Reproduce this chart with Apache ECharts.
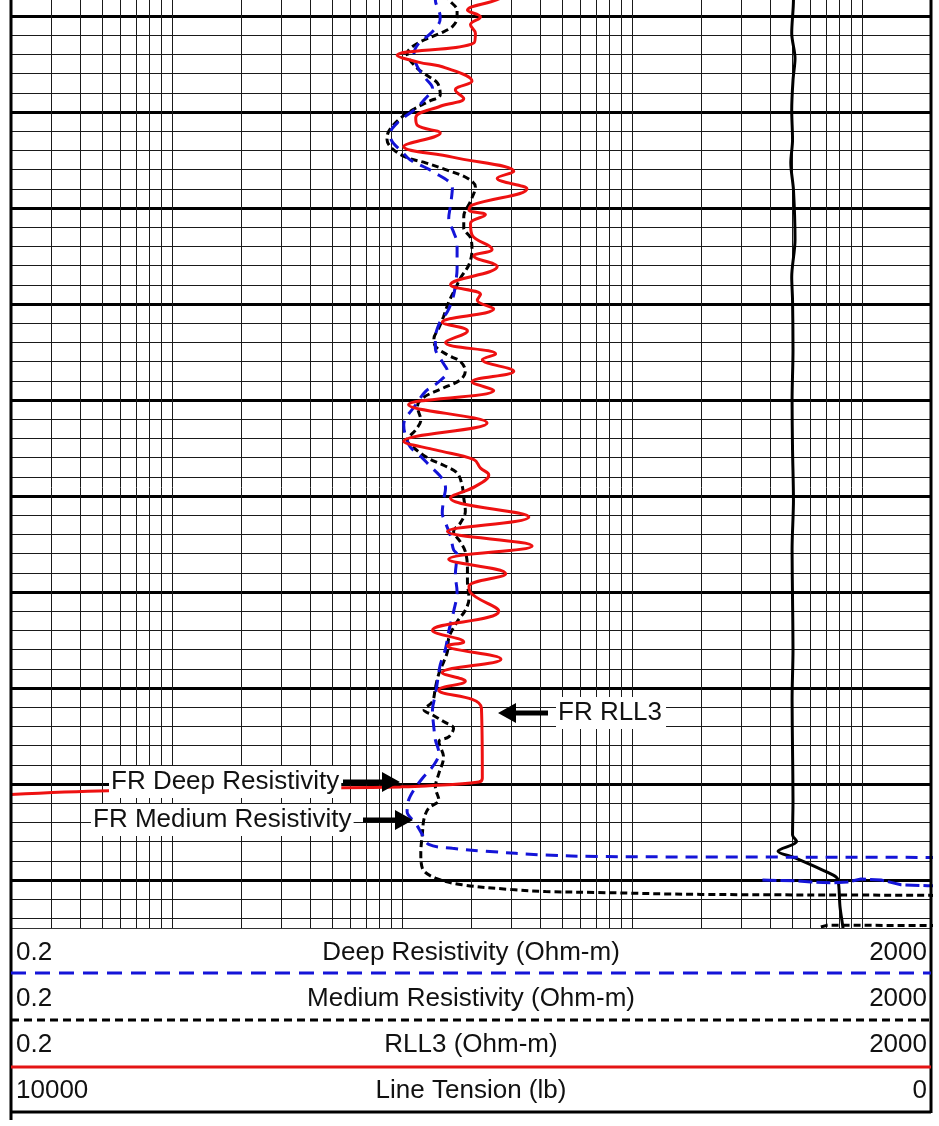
<!DOCTYPE html>
<html>
<head>
<meta charset="utf-8">
<script src="https://cdn.jsdelivr.net/npm/echarts/dist/echarts.min.js"></script>
<style>
html,body{margin:0;padding:0;background:#fff;}
#chart{width:939px;height:1126px;}
</style>
</head>
<body>
<div id="chart"></div>
<script>
// ---------------- DATA ----------------
// Depth axis (ft): major line every 10, minor every 2
const depthMin = 4990, depthMax = 5100;

// Log grid values for resistivity track (0.2 - 2000 ohm-m)
const logGridValues = [0.3,0.4,0.5,0.6,0.7,0.8,0.9,1,2,3,4,5,6,7,8,9,
  10,20,30,40,50,60,70,80,90,100,200,300,400,500,600,700,800,900,1000];

// RLL3 (red, solid)
const rll3Depth = [
  4997.6,4998.3,4999.4,5000.1,5000.9,5001.8,5002.8,5004.1,5004.8,5005.4,
  5006.8,5007.7,5008.6,5009.4,5010.6,5011.4,5012.2,5013.6,5014.7,5016.2,
  5016.9,5018.0,5019.7,5020.2,5020.7,5021.6,5022.8,5024.3,5025.0,5026.1,
  5028.0,5029.0,5029.6,5030.5,5031.9,5032.8,5034.0,5035.2,5035.8,5037.0,
  5038.1,5039.0,5040.5,5042.4,5044.3,5045.2,5046.2,5047.1,5047.8,5049.0,
  5050.2,5052.2,5053.7,5055.2,5056.6,5058.1,5059.4,5060.0,5062.0,5064.0,
  5065.2,5065.6,5067.0,5068.4,5069.3,5070.2,5072.1,5079.4,5079.8,5080.2,
  5080.3,5080.4,5080.7,5081.1];
const rll3Value = [
  29.0,26.0,19.3,22.0,19.9,20.9,20.6,9.55,11.8,15.5,
  20.2,17.1,18.6,14.7,11.5,11.7,14.7,10.2,16.6,30.7,
  26.0,35.0,20.2,19.6,23.1,19.9,20.2,24.7,20.6,26.0,
  16.3,22.0,21.3,25.1,15.0,19.3,15.5,25.6,22.4,30.7,
  20.2,25.1,10.7,23.5,10.2,14.0,20.6,22.0,23.9,20.9,
  16.3,35.7,15.8,36.9,16.0,28.3,19.6,19.8,26.4,13.6,
  18.6,15.8,27.0,15.0,18.9,14.5,22.2,22.4,21.6,12.7,
  9.87,5.59,0.53,0.2];

// Deep Resistivity (blue, dashed)
const deepDepth = [
  4997.6,4998.3,5000.1,5000.8,5002.0,5002.8,5003.9,5005.3,5006.5,5007.5,
  5008.75,5009.8,5011.0,5012.2,5012.9,5014.1,5015.0,5016.2,5017.9,5019.7,
  5021.1,5022.5,5023.7,5026.3,5028.0,5029.1,5030.8,5031.8,5033.6,5034.6,
  5036.0,5037.0,5038.1,5039.1,5040.5,5042.6,5043.8,5044.9,5045.7,5046.9,
  5048.2,5049.2,5050.4,5051.8,5052.8,5054.2,5055.6,5056.1,5058.2,5060.0,
  5062.05,5064.1,5065.9,5067.6,5069.3,5070.7,5072.3,5074.2,5075.4,5076.8,
  5078.0,5079.4,5080.6,5081.7,5082.9,5084.1,5085.3,5086.3,5086.7,5087.0,
  5087.4,5087.55,5087.6,5087.65,5087.7];
const deepValue = [
  14.0,14.0,14.7,14.5,13.1,11.9,11.3,11.7,12.7,13.6,
  12.5,11.3,9.7,8.93,9.0,10.0,10.9,13.6,16.6,16.3,
  16.0,16.8,17.4,17.4,17.1,16.8,15.8,14.7,14.0,14.0,
  15.0,15.8,14.5,12.7,11.5,10.2,10.4,10.9,11.9,13.3,
  15.0,15.5,15.2,15.0,15.5,16.3,16.8,17.4,17.1,17.4,
  16.8,16.0,15.5,14.7,14.3,14.0,13.6,13.8,14.0,14.5,
  13.8,12.3,11.3,10.7,10.55,11.5,12.3,13.1,16.6,23.1,
  42.2,70.8,200,2000,2200];
// Deep Resistivity backup (wrapped) segment
const deepBackupDepth = [5090.0,5090.1,5090.2,5090.3,5090.2,5089.9,5090.0,5090.5,5090.6,5090.6];
const deepBackupValue = [370,526,601,759,868,992,1212,1481,1935,2200];

// Medium Resistivity (black, dashed)
const mediumDepth = [
  4997.6,4998.3,4999.4,5000.2,5001.1,5001.8,5002.5,5003.2,5003.9,5005.3,
  5006.1,5007.0,5008.2,5008.9,5009.8,5010.8,5012.0,5012.9,5013.8,5014.7,
  5015.3,5016.0,5016.9,5017.8,5019.3,5020.9,5022.1,5023.1,5024.4,5025.9,
  5027.3,5028.4,5029.8,5031.3,5032.5,5033.6,5034.4,5035.3,5036.0,5037.0,
  5037.9,5038.8,5039.8,5040.7,5042.1,5043.1,5044.2,5045.0,5046.1,5046.8,
  5047.6,5048.9,5050.2,5051.6,5052.8,5053.7,5054.8,5055.8,5057.5,5058.9,
  5060.7,5061.9,5063.1,5064.8,5066.2,5067.3,5068.1,5069.0,5070.0,5071.4,
  5072.3,5072.8,5073.5,5074.2,5075.1,5075.6,5077.2,5078.9,5080.3,5081.7,
  5082.5,5083.6,5085.1,5087.2,5088.8,5089.8,5090.5,5091.0,5091.2,5091.3,
  5091.5,5091.6,5091.65];
const mediumValue = [
  15.5,16.0,17.4,17.4,16.6,14.7,12.5,11.1,10.55,11.5,
  12.7,14.3,14.7,13.1,11.1,9.7,8.78,8.63,9.08,10.4,
  12.7,15.5,19.3,20.9,19.9,18.6,18.6,19.9,20.2,19.6,
  18.0,17.1,16.0,15.2,14.5,13.8,14.0,15.8,18.0,18.9,
  18.0,15.0,12.3,11.7,12.1,11.5,10.55,11.3,13.1,15.2,
  17.4,18.3,18.6,18.9,18.0,16.8,18.0,18.9,19.3,19.3,
  19.6,18.9,17.4,16.0,15.8,15.2,14.7,14.3,14.0,13.6,
  12.5,13.6,15.2,16.8,16.0,14.5,15.2,14.5,14.0,14.5,
  13.1,12.5,12.3,12.1,12.3,14.0,18.3,30.2,42.2,70.8,
  200,2000,2200];
// Medium Resistivity backup (wrapped) segment
const mediumBackupDepth = [5094.9,5094.7,5094.75,5094.75];
const mediumBackupValue = [664,710,2000,2200];

// Line Tension (black, solid) lb, scale 10000 (left) -> 0 (right)
const tensionDepth = [
  4997.6,4998.3,5001.8,5004.4,5006.7,5009.8,5012.9,5015.3,5018.1,5023.3,
  5027.2,5029.6,5034.8,5040.0,5045.2,5050.4,5055.6,5060.8,5066.0,5071.2,
  5076.5,5081.7,5085.3,5086.0,5087.0,5087.7,5089.5,5090.0,5092.8,5095.0,5096.0];
const tensionValue = [
  1500,1495,1514,1478,1500,1514,1505,1524,1495,1478,
  1514,1505,1500,1510,1505,1495,1510,1505,1500,1510,
  1505,1500,1505,1460,1663,1478,1062,1011,989,957,950];

// Header texts
const headerTitles = ['Deep Resistivity (Ohm-m)','Medium Resistivity (Ohm-m)','RLL3 (Ohm-m)','Line Tension (lb)'];
const headerLeft = ['0.2','0.2','0.2','10000'];
const headerRight = ['2000','2000','2000','0'];

// Annotation labels
const annotationTexts = ['FR RLL3','FR Deep Resistivity','FR Medium Resistivity'];

// ---------------- CHART ----------------
function zip(depths, values){ return depths.map((d,i)=>[values[i], d]); }

const chart = echarts.init(document.getElementById('chart'), null, {renderer:'canvas'});

const FONT = '26px "Liberation Sans", Arial, sans-serif';
const L = 11, R = 931;
const rowY = [953, 999, 1045, 1091];

const graphics = [];
// cover below plot
graphics.push({type:'rect', z:50, shape:{x:0,y:929,width:939,height:197}, style:{fill:'#fff'}});
// plot bottom border
graphics.push({type:'line', z:60, shape:{x1:L,y1:928.5,x2:R,y2:928.5}, style:{stroke:'#333',lineWidth:1}});
// left / right borders
graphics.push({type:'line', z:60, shape:{x1:L,y1:0,x2:L,y2:1120}, style:{stroke:'#000',lineWidth:3}});
graphics.push({type:'line', z:60, shape:{x1:R,y1:0,x2:R,y2:1113}, style:{stroke:'#000',lineWidth:3}});
// header separator lines
graphics.push({type:'line', z:60, shape:{x1:L,y1:973,x2:R,y2:973}, style:{stroke:'#1414d8',lineWidth:3,lineDash:[15,9]}});
graphics.push({type:'line', z:60, shape:{x1:L,y1:1020,x2:R,y2:1020}, style:{stroke:'#000',lineWidth:3,lineDash:[8,5]}});
graphics.push({type:'line', z:60, shape:{x1:L,y1:1067,x2:R,y2:1067}, style:{stroke:'#e41414',lineWidth:3}});
graphics.push({type:'line', z:60, shape:{x1:L,y1:1112,x2:R,y2:1112}, style:{stroke:'#000',lineWidth:3}});
// header texts
for (let i=0;i<4;i++){
  graphics.push({type:'text', z:70, style:{text:headerLeft[i], x:16, y:rowY[i], font:FONT, fill:'#111', textAlign:'left', textVerticalAlign:'middle'}});
  graphics.push({type:'text', z:70, style:{text:headerTitles[i], x:(L+R)/2, y:rowY[i], font:FONT, fill:'#111', textAlign:'center', textVerticalAlign:'middle'}});
  graphics.push({type:'text', z:70, style:{text:headerRight[i], x:927, y:rowY[i], font:FONT, fill:'#111', textAlign:'right', textVerticalAlign:'middle'}});
}
// annotations
function arrow(tipX, tipY, tailX, dir){ // dir: -1 points left, 1 points right
  const hl = 18, hh = 10, sh = 2.5;
  const bx = tipX - dir*hl;
  return {type:'polygon', z:80, shape:{points:[
    [tipX,tipY],[bx,tipY-hh],[bx,tipY-sh],[tailX,tipY-sh],[tailX,tipY+sh],[bx,tipY+sh],[bx,tipY+hh]
  ]}, style:{fill:'#000'}};
}
graphics.push({type:'text', z:78, style:{text:annotationTexts[0], x:556, y:713, font:FONT, fill:'#111', textVerticalAlign:'middle', backgroundColor:'#fff', padding:[3,4,3,2]}});
graphics.push(arrow(498, 713, 548, -1));
graphics.push({type:'text', z:78, style:{text:annotationTexts[1], x:109, y:782, font:FONT, fill:'#111', textVerticalAlign:'middle', backgroundColor:'#fff', padding:[3,2,3,2]}});
graphics.push(arrow(400, 782, 343, 1));
graphics.push({type:'text', z:78, style:{text:annotationTexts[2], x:91, y:820, font:FONT, fill:'#111', textVerticalAlign:'middle', backgroundColor:'#fff', padding:[3,2,3,2]}});
graphics.push(arrow(413, 820, 363, 1));

const option = {
  animation: false,
  backgroundColor: '#fff',
  grid: {left: L, width: R - L, top: -80, height: 1056, show: false, containLabel: false, outerBoundsMode: 'none'},
  xAxis: [
    {type:'log', logBase:10, min:0.2, max:2000, show:true,
     axisLine:{show:false}, axisTick:{show:false}, axisLabel:{show:false}, splitLine:{show:false}},
    {type:'value', min:0, max:10000, inverse:true, show:false}
  ],
  yAxis: {
    type:'value', min:depthMin, max:depthMax, interval:10, inverse:true,
    axisLine:{show:false}, axisTick:{show:false}, axisLabel:{show:false},
    splitLine:{show:true, lineStyle:{color:'#000', width:3}},
    minorTick:{show:false, splitNumber:5},
    minorSplitLine:{show:true, lineStyle:{color:'#1a1a1a', width:1}}
  },
  graphic: {elements: graphics},
  series: [
    {type:'line', name:'logGrid', data:[], z:1, silent:true,
     markLine:{silent:true, symbol:['none','none'], animation:false, label:{show:false},
       emphasis:{disabled:true},
       lineStyle:{color:'#1a1a1a', width:1, type:'solid'},
       data: logGridValues.map(v=>({xAxis:v}))}},
    {type:'line', name:'Line Tension', xAxisIndex:1, data:zip(tensionDepth, tensionValue),
     symbol:'none', smooth:0.3, z:5, silent:true,
     lineStyle:{color:'#000', width:3}},
    {type:'line', name:'Medium Resistivity', data:zip(mediumDepth, mediumValue),
     symbol:'none', smooth:0.35, z:6, silent:true,
     lineStyle:{color:'#000', width:3, type:[7,4]}},
    {type:'line', name:'Medium Resistivity backup', data:zip(mediumBackupDepth, mediumBackupValue),
     symbol:'none', z:6, silent:true,
     lineStyle:{color:'#000', width:3, type:[7,4]}},
    {type:'line', name:'Deep Resistivity', data:zip(deepDepth, deepValue),
     symbol:'none', smooth:0.35, z:7, silent:true,
     lineStyle:{color:'#1414d8', width:3, type:[12,8]}},
    {type:'line', name:'Deep Resistivity backup', data:zip(deepBackupDepth, deepBackupValue),
     symbol:'none', z:7, silent:true,
     lineStyle:{color:'#1414d8', width:3, type:[14,4]}},
    {type:'line', name:'RLL3', data:zip(rll3Depth, rll3Value),
     symbol:'none', smooth:0.4, z:8, silent:true,
     lineStyle:{color:'#ee1111', width:3}}
  ]
};
chart.setOption(option);
</script>
</body>
</html>
